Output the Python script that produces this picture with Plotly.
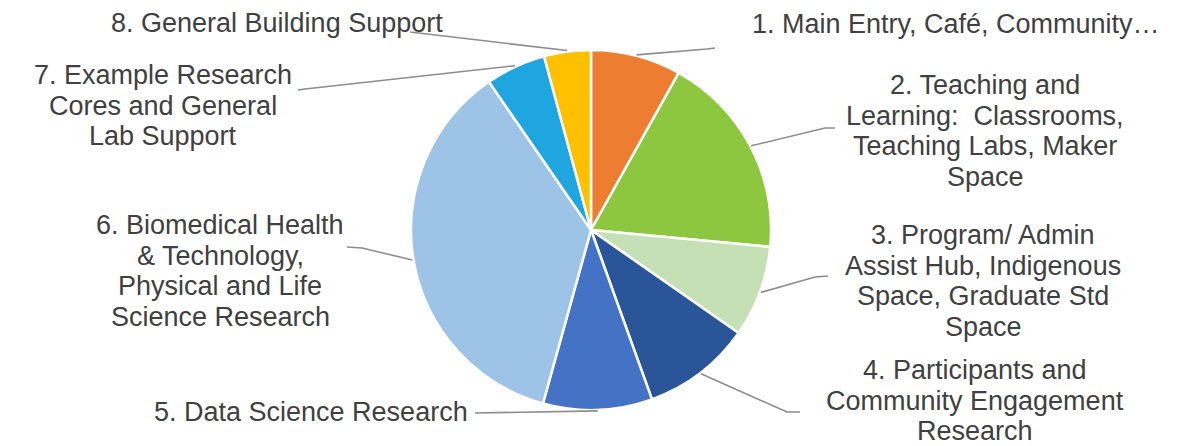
import math
import plotly.graph_objects as go

# ---------------- data ----------------
labels = [
    "1. Main Entry, Café, Community…",
    "2. Teaching and<br>Learning:  Classrooms,<br>Teaching Labs, Maker<br>Space",
    "3. Program/ Admin<br>Assist Hub, Indigenous<br>Space, Graduate Std<br>Space",
    "4. Participants and<br>Community Engagement<br>Research",
    "5. Data Science Research",
    "6. Biomedical Health<br>& Technology,<br>Physical and Life<br>Science Research",
    "7. Example Research<br>Cores and General<br>Lab Support",
    "8. General Building Support",
]
values = [8.1, 18.4, 8.2, 9.8, 9.8, 36.1, 5.4, 4.2]

# ---------------- style / layout ----------------
colors = ["#ED7D31", "#8DC63F", "#C5E0B4", "#2A5699",
          "#4472C4", "#9DC3E6", "#1FA6E0", "#FFC000"]

OFF = 8                             # page body margin of the browser
W, H = 1201 - OFF, 446 - OFF
CX, CY, R = 591, 230, 180          # pie centre / radius in screen pixels
FONT = "Liberation Sans, Arial, sans-serif"
FSIZE = 27
LINE_GAP = 30.5
TEXT_COLOR = "#404040"
LEADER_COLOR = "#8C8C8C"

# label block centres (x, y of first line) in screen pixels
label_pos = [
    (956, 24),
    (985, 85),
    (983, 235),
    (975, 370),
    (311, 412),
    (220, 225),
    (163, 75),
    (277, 23),
]
# leader line elbow and end points in screen pixels
leader_pts = [
    ((707, 49), (715, 48)),
    ((825, 128), (835, 128)),
    ((815, 277), (828, 276)),
    ((787, 412), (800, 412)),
    ((475, 413), (475, 413)),
    ((362, 248), (347, 247)),
    ((305, 89), (298, 90)),
    ((410, 32), (410, 32)),
]


def px(x, y):
    return (x - OFF) / W, 1 - (y - OFF) / H


fig = go.Figure(go.Pie(
    labels=labels,
    values=values,
    sort=False,
    direction="clockwise",
    rotation=0,
    marker=dict(colors=colors, line=dict(color="white", width=2.5)),
    textinfo="none",
    hoverinfo="label+percent",
    showlegend=False,
    domain=dict(x=[(CX - R - OFF) / W, (CX + R - OFF) / W],
                y=[1 - (CY + R - OFF) / H, 1 - (CY - R - OFF) / H]),
))

# leader lines: start at the middle angle of each slice (derived from values)
total = sum(values)
shapes = []
cum = 0.0
for v, (elbow, end) in zip(values, leader_pts):
    mid = (cum + v / 2) / total * 2 * math.pi
    cum += v
    sx = CX + (R + 1) * math.sin(mid)
    sy = CY - (R + 1) * math.cos(mid)
    p0, p1, p2 = px(sx, sy), px(*elbow), px(*end)
    shapes.append(dict(
        type="path", xref="paper", yref="paper",
        path=f"M {p0[0]},{p0[1]} L {p1[0]},{p1[1]} L {p2[0]},{p2[1]}",
        line=dict(color=LEADER_COLOR, width=1.6),
    ))

annotations = []
for lab, (lx, ly) in zip(labels, label_pos):
    for i, line in enumerate(lab.split("<br>")):
        x, y = px(lx, ly + i * LINE_GAP)
        annotations.append(dict(
            x=x, y=y, xref="paper", yref="paper",
            text=line, showarrow=False,
            xanchor="center", yanchor="middle",
            font=dict(family=FONT, size=FSIZE, color=TEXT_COLOR),
        ))

fig.update_layout(
    width=W, height=H,
    margin=dict(l=0, r=0, t=0, b=0),
    paper_bgcolor="white",
    plot_bgcolor="white",
    shapes=shapes,
    annotations=annotations,
)

fig.write_html("out.html")
